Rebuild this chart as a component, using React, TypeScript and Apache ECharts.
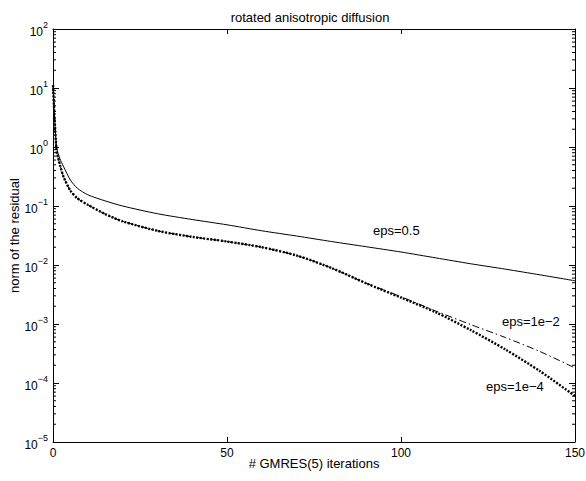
import React, { useEffect, useRef } from "react";
import * as echarts from "echarts";

const iterations = [0, 1, 2, 3, 5, 7, 10, 15, 20, 30, 40, 50, 60, 70, 80, 90, 100, 110, 120, 130, 140, 150];
const eps05 = [11.2, 1.0, 0.63, 0.47, 0.275, 0.2, 0.155, 0.122, 0.1, 0.074, 0.059, 0.048, 0.038, 0.031, 0.025, 0.0204, 0.0166, 0.0132, 0.0105, 0.0085, 0.0068, 0.0054];
const eps1e2 = [11.2, 0.89, 0.5, 0.316, 0.182, 0.135, 0.105, 0.073, 0.055, 0.038, 0.030, 0.025, 0.020, 0.0145, 0.0089, 0.0049, 0.0029, 0.00166, 0.00098, 0.00059, 0.00034, 0.00018];
const eps1e4 = [11.2, 0.89, 0.5, 0.316, 0.182, 0.135, 0.105, 0.073, 0.055, 0.038, 0.030, 0.025, 0.020, 0.0145, 0.0089, 0.0049, 0.0028, 0.00158, 0.00079, 0.00037, 0.000158, 0.00006];
const xTicks = [0, 50, 100, 150];
const decades = [-5, -4, -3, -2, -1, 0, 1];
const minorMultipliers = [2, 3, 4, 5, 6, 7, 8, 9];

const FONT = "Liberation Sans, Arial, Helvetica, sans-serif";

const toPairs = (ys: number[]) => iterations.map((x, i) => [x, ys[i]]);

export default function App() {
  const ref = useRef<HTMLDivElement>(null);
  useEffect(() => {
    if (!ref.current) return;
    const chart = echarts.init(ref.current, undefined, { renderer: "svg" });
    const minorTicks: number[][] = [];
    decades.forEach((d) => minorMultipliers.forEach((m) => minorTicks.push([0, m * Math.pow(10, d)])));

    const yLabel = (v: number) => {
      const e = Math.round(Math.log10(v));
      const s = e < 0 ? "\u2212" + Math.abs(e) : String(e);
      return "{b|10}{s|" + s + "}";
    };
    const rich = {
      b: { fontSize: 12, fontFamily: FONT, color: "#000", lineHeight: 18, verticalAlign: "bottom" },
      s: { fontSize: 9, fontFamily: FONT, color: "#000", lineHeight: 18, verticalAlign: "top" },
    };

    const lineSeries = (name: string, ys: number[], lineStyle: any) => ({
      name,
      type: "line",
      data: toPairs(ys),
      showSymbol: false,
      smooth: 0.25,
      lineStyle,
    });

    const option: any = {
      animation: false,
      backgroundColor: "#fff",
      title: {
        text: "rotated anisotropic diffusion",
        left: 305,
        top: 6,
        textAlign: "center",
        textStyle: { fontSize: 13, fontWeight: "normal", fontFamily: FONT, color: "#000" },
      },
      grid: { left: 53, top: 29, right: 11, bottom: 39, show: false, containLabel: false, outerBoundsMode: "none" },
      xAxis: [
        {
          type: "value",
          min: 0,
          max: 150,
          interval: 50,
          name: "# GMRES(5) iterations",
          nameLocation: "middle",
          nameGap: 15,
          nameMoveOverlap: false,
          nameTextStyle: { fontSize: 13, fontFamily: FONT, color: "#000" },
          axisLine: { show: true, lineStyle: { color: "#000", width: 1 } },
          axisTick: { show: true, inside: true, length: 5, lineStyle: { color: "#000" } },
          axisLabel: {
            fontSize: 12,
            fontFamily: FONT,
            color: "#000",
            margin: 5,
            formatter: (v: number) => (xTicks.includes(v) ? String(v) : ""),
          },
          splitLine: { show: false },
        },
        {
          type: "value",
          position: "top",
          min: 0,
          max: 150,
          interval: 50,
          axisLine: { show: true, onZero: false, lineStyle: { color: "#000", width: 1 } },
          axisTick: { show: true, inside: true, length: 5, lineStyle: { color: "#000" } },
          axisLabel: { show: false },
          splitLine: { show: false },
        },
      ],
      yAxis: [
        {
          type: "log",
          logBase: 10,
          min: 1e-5,
          max: 100,
          name: "norm of the residual",
          nameLocation: "middle",
          nameGap: 32,
          nameMoveOverlap: false,
          nameTextStyle: { fontSize: 13, fontFamily: FONT, color: "#000" },
          axisLine: { show: true, lineStyle: { color: "#000", width: 1 } },
          axisTick: { show: true, inside: true, length: 6, lineStyle: { color: "#000" } },
          axisLabel: { margin: 5, formatter: yLabel, rich },
          splitLine: { show: false },
        },
        {
          type: "log",
          logBase: 10,
          min: 1e-5,
          max: 100,
          position: "right",
          axisLine: { show: true, onZero: false, lineStyle: { color: "#000", width: 1 } },
          axisTick: { show: true, inside: true, length: 6, lineStyle: { color: "#000" } },
          axisLabel: { show: false },
          splitLine: { show: false },
        },
      ],
      series: [
        {
          type: "custom",
          silent: true,
          xAxisIndex: 0,
          yAxisIndex: 0,
          data: minorTicks,
          encode: { x: 0, y: 1 },
          renderItem: (params: any, api: any) => {
            const v = api.value(1);
            const p0 = api.coord([0, v]);
            const p1 = api.coord([150, v]);
            const st = { stroke: "#000", lineWidth: 1 };
            return {
              type: "group",
              children: [
                { type: "line", shape: { x1: p0[0], y1: p0[1], x2: p0[0] + 3, y2: p0[1] }, style: st },
                { type: "line", shape: { x1: p1[0] - 3, y1: p1[1], x2: p1[0], y2: p1[1] }, style: st },
              ],
            };
          },
        },
        lineSeries("eps=0.5", eps05, { color: "#000", width: 1, type: "solid" }),
        lineSeries("eps=1e-2", eps1e2, { color: "#000", width: 1, type: [7, 3, 1.5, 3] }),
        lineSeries("eps=1e-4", eps1e4, { color: "#000", width: 2.4, type: [2, 1.5] }),
      ],
      graphic: [
        { type: "text", left: 373, top: 224, style: { text: "eps=0.5", fontSize: 13, fontFamily: FONT, fill: "#000" } },
        { type: "text", left: 502, top: 315, style: { text: "eps=1e\u22122", fontSize: 13, fontFamily: FONT, fill: "#000" } },
        { type: "text", left: 486, top: 380, style: { text: "eps=1e\u22124", fontSize: 13, fontFamily: FONT, fill: "#000" } },
      ],
    };
    chart.setOption(option);
    return () => chart.dispose();
  }, []);
  return (
    <div
      ref={ref}
      style={{ position: "fixed", left: 0, top: 0, width: 586, height: 481, background: "#fff" }}
    />
  );
}
